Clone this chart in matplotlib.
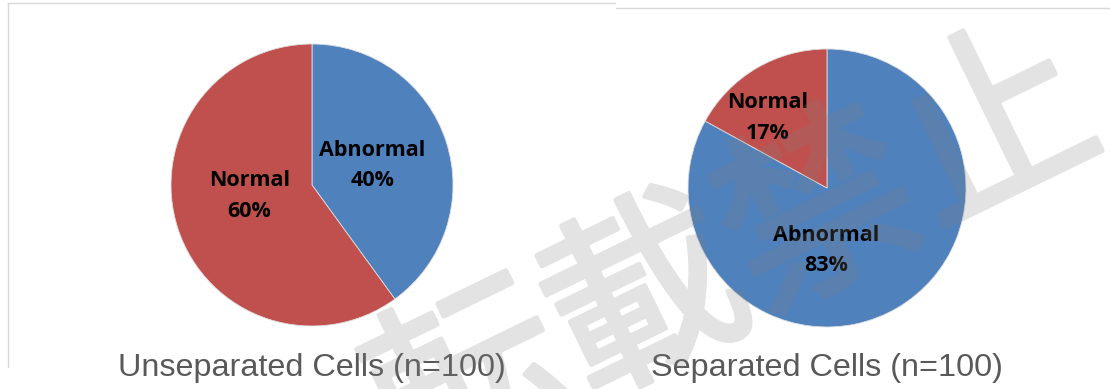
import numpy as np
import matplotlib.pyplot as plt
import matplotlib.patheffects as pe
from matplotlib.lines import Line2D

# data
categories = ['Abnormal', 'Normal']
unseparated = [40, 60]
separated = [83, 17]
titles = ['Unseparated Cells (n=100)', 'Separated Cells (n=100)']
colors = ['#4F81BD', '#C0504D']

# where Excel put the data labels (angle in degrees, radius fraction)
label_pos = [
    [(18, 0.45), (190, 0.45)],
    [(269, 0.45), (130, 0.66)],
]

fig = plt.figure(figsize=(11.1, 3.89), dpi=100)
fig.patch.set_facecolor('white')

# pie geometry in pixels: (center x, center y, radius)
geo = [(312, 185, 141), (827, 188, 139)]
W, H = 1110, 389

for i, vals in enumerate([unseparated, separated]):
    cx, cy, r = geo[i]
    ax = fig.add_axes([(cx - r) / W, 1 - (cy + r) / H, 2 * r / W, 2 * r / H])
    wedges, _ = ax.pie(vals, colors=colors, startangle=90, counterclock=False,
                       radius=1, wedgeprops=dict(linewidth=0.6, edgecolor='#dddddd'))
    ax.set_xlim(-1, 1)
    ax.set_ylim(-1, 1)
    ax.set_aspect('equal')
    ax.axis('off')
    for j, (cat, v) in enumerate(zip(categories, vals)):
        ang, d = label_pos[i][j]
        x = d * np.cos(np.radians(ang))
        y = d * np.sin(np.radians(ang))
        ax.text(x, y, f'{cat}\n{v}%', ha='center', va='center', fontsize=15.5,
                fontweight='bold', family='Open Sans', color='black', linespacing=1.6)
    fig.text(cx / W, 1 - 368 / H, titles[i], ha='center', va='center',
             fontsize=23.3, family='Liberation Sans', color='#595959')

# thin panel borders
lc = '#d9d9d9'
fig.add_artist(Line2D([8 / W, 615 / W], [1 - 3 / H, 1 - 3 / H], color=lc, lw=1))
fig.add_artist(Line2D([8 / W, 8 / W], [1 - 3 / H, 1 - 367 / H], color=lc, lw=1))
fig.add_artist(Line2D([616 / W, 1110 / W], [1 - 8 / H, 1 - 8 / H], color=lc, lw=1))


# watermark: drawn solid, then made see-through as a whole
def fade(im, dpi):
    im = im.copy()
    im[..., 3] *= 0.22
    return im, 0, 0


wm = fig.text(735 / W, 1 - 262 / H, '転載禁止', ha='center', va='center', rotation=26,
              fontsize=140, family='Noto Sans CJK JP', color='#808080', zorder=10)
wm.set_path_effects([pe.withStroke(linewidth=3.5, foreground='#808080')])
wm.set_agg_filter(fade)

fig.savefig('out.png', dpi=100, facecolor='white')
